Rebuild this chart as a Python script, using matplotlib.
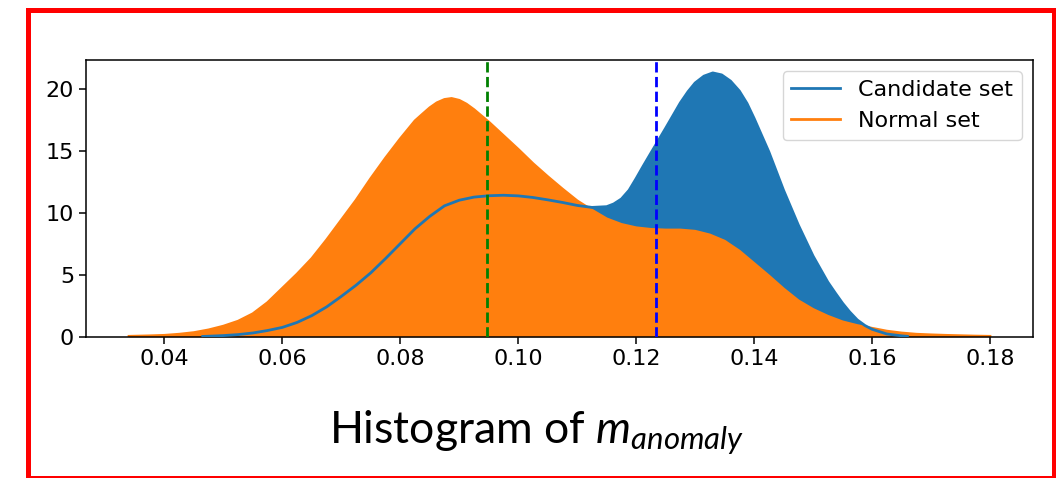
import matplotlib
matplotlib.use("Agg")
import matplotlib.pyplot as plt
from matplotlib.lines import Line2D

# Density curves (x value, density)
normal_x = [0.0340, 0.0375, 0.0400, 0.0425, 0.0450, 0.0475, 0.0500, 0.0525,
            0.0550, 0.0575, 0.0600, 0.0625, 0.0650, 0.0675, 0.0700, 0.0725,
            0.0750, 0.0775, 0.0800, 0.0825, 0.0838, 0.0850, 0.0862, 0.0875,
            0.0887, 0.0900, 0.0912, 0.0925, 0.0950, 0.0975, 0.1000, 0.1025,
            0.1050, 0.1075, 0.1100, 0.1125, 0.1150, 0.1175, 0.1200, 0.1225,
            0.1250, 0.1275, 0.1300, 0.1325, 0.1350, 0.1375, 0.1400, 0.1425,
            0.1450, 0.1475, 0.1500, 0.1525, 0.1550, 0.1575, 0.1600, 0.1625,
            0.1650, 0.1675, 0.1700, 0.1725, 0.1750, 0.1775, 0.1800]
normal_y = [0.03, 0.07, 0.11, 0.20, 0.33, 0.55, 0.85, 1.25,
            1.85, 2.75, 3.90, 5.05, 6.30, 7.80, 9.40, 11.00,
            12.75, 14.40, 15.95, 17.40, 17.95, 18.45, 18.85, 19.12,
            19.20, 19.05, 18.75, 18.30, 17.30, 16.20, 15.10, 13.95,
            12.90, 11.90, 10.95, 10.20, 9.50, 9.05, 8.78, 8.65,
            8.60, 8.60, 8.50, 8.20, 7.70, 6.90, 5.90, 4.90,
            3.85, 2.90, 2.20, 1.65, 1.20, 0.90, 0.68, 0.45,
            0.30, 0.20, 0.15, 0.11, 0.08, 0.05, 0.03]

cand_x = [0.0465, 0.0500, 0.0525, 0.0550, 0.0575, 0.0600, 0.0625, 0.0650,
          0.0675, 0.0700, 0.0725, 0.0750, 0.0775, 0.0800, 0.0825, 0.0850,
          0.0875, 0.0900, 0.0925, 0.0950, 0.0975, 0.1000, 0.1025, 0.1050,
          0.1075, 0.1100, 0.1125, 0.1150, 0.1162, 0.1175, 0.1188, 0.1200,
          0.1212, 0.1225, 0.1250, 0.1275, 0.1288, 0.1300, 0.1315, 0.1330,
          0.1345, 0.1360, 0.1375, 0.1388, 0.1400, 0.1425, 0.1450, 0.1475,
          0.1500, 0.1525, 0.1538, 0.1550, 0.1562, 0.1575, 0.1588, 0.1600,
          0.1625, 0.1650, 0.1660]
cand_y = [0.02, 0.09, 0.17, 0.30, 0.50, 0.75, 1.15, 1.70,
          2.40, 3.25, 4.15, 5.15, 6.30, 7.50, 8.70, 9.70,
          10.55, 11.00, 11.25, 11.36, 11.40, 11.35, 11.22, 11.03,
          10.82, 10.58, 10.42, 10.48, 10.70, 11.10, 11.80, 12.75,
          13.75, 14.80, 16.80, 18.85, 19.75, 20.45, 21.00, 21.26,
          21.10, 20.60, 19.80, 18.80, 17.60, 14.90, 11.80, 9.00,
          6.50, 4.40, 3.50, 2.70, 2.00, 1.35, 0.90, 0.60,
          0.22, 0.07, 0.03]

green_line_x = 0.0947
blue_line_x = 0.1234

BLUE = "#1f77b4"
ORANGE = "#ff7f0e"
FONT = 16

plt.rcParams["font.size"] = FONT
plt.rcParams["mathtext.fontset"] = "custom"
plt.rcParams["mathtext.rm"] = "Lato"
plt.rcParams["mathtext.it"] = "Lato:italic"

fig = plt.figure(figsize=(10.56, 4.78), dpi=100)
ax = fig.add_axes([86 / 1056, 1 - 336.7 / 478, (1033 - 86) / 1056, (336.7 - 60) / 478])

ax.fill_between(cand_x, cand_y, color=BLUE, linewidth=0, zorder=1)
ax.fill_between(normal_x, normal_y, color=ORANGE, linewidth=0, zorder=2)
ax.plot(cand_x, cand_y, color=BLUE, linewidth=2, label="Candidate set", zorder=3)
ax.plot(normal_x, normal_y, color=ORANGE, linewidth=2, label="Normal set", zorder=2.5)

ax.axvline(green_line_x, color="green", linestyle="--", linewidth=2, zorder=4)
ax.axvline(blue_line_x, color="blue", linestyle="--", linewidth=2, zorder=4)

ax.set_xticks([0.04, 0.06, 0.08, 0.10, 0.12, 0.14, 0.16, 0.18])
ax.set_yticks([0, 5, 10, 15, 20])
ax.margins(x=0.05)
ax.set_ylim(0, 22.3)
ax.tick_params(length=5, width=1.1, labelsize=FONT)
for spine in ax.spines.values():
    spine.set_linewidth(1.1)

ax.legend(loc="upper right", fontsize=FONT, handlelength=2.2)

fig.text(0.508, 1 - 443 / 478, "Histogram of $m_{anomaly}$", ha="center",
         va="baseline", fontsize=32, family="Lato")

# red frame around the whole figure
frame_x = [27.5 / 1056, 1053.5 / 1056, 1053.5 / 1056, 27.5 / 1056, 27.5 / 1056]
frame_y = [1 - 9.5 / 478, 1 - 9.5 / 478, 1 - 477.5 / 478, 1 - 477.5 / 478, 1 - 9.5 / 478]
fig.add_artist(Line2D(frame_x, frame_y, transform=fig.transFigure,
                      color="red", linewidth=3.6, solid_joinstyle="miter"))

fig.savefig("out.png", dpi=100)
